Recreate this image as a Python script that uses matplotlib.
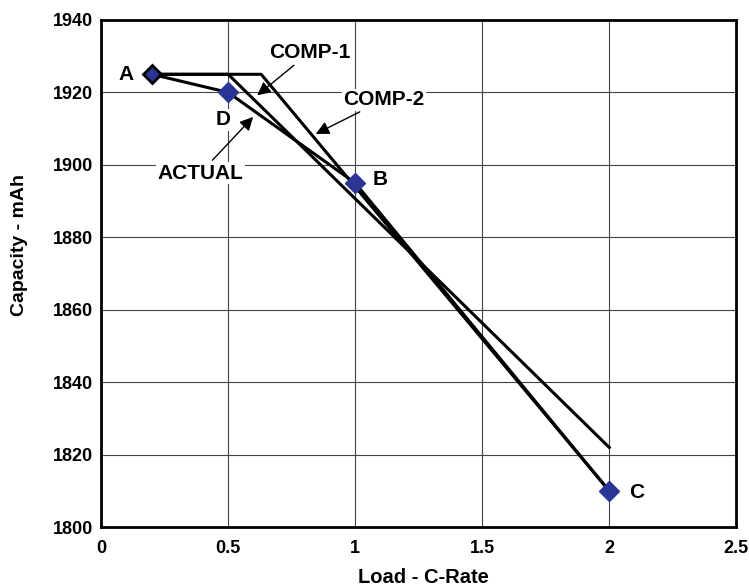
import matplotlib
matplotlib.use("Agg")
import matplotlib.pyplot as plt

plt.rcParams['font.family'] = ['Liberation Sans', 'DejaVu Sans']
plt.rcParams['font.weight'] = 'bold'

# measured points
pt_names = ['A', 'D', 'B', 'C']
pt_x = [0.2, 0.5, 1.0, 2.0]
pt_y = [1925, 1920, 1895, 1810]

# curves
actual_x = [0.2, 0.5, 1.0, 2.0]
actual_y = [1925, 1920, 1895, 1810]
comp1_x = [0.2, 0.5, 2.0]
comp1_y = [1925, 1925, 1822]
comp2_x = [0.2, 0.63, 2.0]
comp2_y = [1925, 1925, 1810]

fig = plt.figure(figsize=(7.49, 5.87), dpi=100)
ax = fig.add_axes([0.135, 0.102, 0.848, 0.864])

for xs, ys in [(comp1_x, comp1_y), (comp2_x, comp2_y), (actual_x, actual_y)]:
    ax.plot(xs, ys, color='black', lw=2.2, zorder=3)

ax.plot(pt_x[1:], pt_y[1:], 'D', color='#2b3595', ms=10, mec='#2b3595', zorder=4)
ax.plot(pt_x[:1], pt_y[:1], 'D', color='#2b3595', ms=9, mec='black', mew=2, zorder=4)

box = dict(facecolor='white', edgecolor='none', pad=1)
lbl_off = {'A': (-0.1, 0), 'D': (-0.02, -7.5), 'B': (0.1, 1), 'C': (0.11, -0.5)}
for n, x, y in zip(pt_names, pt_x, pt_y):
    dx, dy = lbl_off[n]
    ax.text(x + dx, y + dy, n, fontsize=15, fontweight='bold', ha='center', va='center',
            bbox=box, zorder=5)

arr = dict(arrowstyle='-|>', color='black', lw=1, mutation_scale=20)
ax.annotate('COMP-1', xy=(0.606, 1918.7), xytext=(0.82, 1931), fontsize=15,
            fontweight='bold', ha='center', va='center', arrowprops=arr, bbox=box, zorder=5)
ax.annotate('COMP-2', xy=(0.835, 1908.2), xytext=(1.114, 1918), fontsize=15,
            fontweight='bold', ha='center', va='center', arrowprops=arr, bbox=box, zorder=5)
ax.annotate('ACTUAL', xy=(0.606, 1913.8), xytext=(0.39, 1897.7), fontsize=15,
            fontweight='bold', ha='center', va='center', arrowprops=arr, bbox=box, zorder=5)

ax.set_xlim(0, 2.5)
ax.set_ylim(1800, 1940)
ax.set_xticks([0, 0.5, 1, 1.5, 2, 2.5])
ax.set_xticklabels(['0', '0.5', '1', '1.5', '2', '2.5'])
ax.set_yticks(range(1800, 1941, 20))
ax.grid(True, color='#444444', lw=0.8)
ax.set_axisbelow(True)
ax.tick_params(length=0, labelsize=13)
ax.tick_params(axis='x', pad=9)
ax.tick_params(axis='y', pad=6)
for lab in ax.get_xticklabels() + ax.get_yticklabels():
    lab.set_fontweight('bold')
for s in ax.spines.values():
    s.set_linewidth(2)

ax.set_xlabel('Load - C-Rate', fontsize=14.5, fontweight='bold', va='center')
ax.set_ylabel('Capacity - mAh', fontsize=14, fontweight='bold', va='center')
ax.xaxis.set_label_coords(0.507, -0.10)
ax.yaxis.set_label_coords(-0.128, 0.556)

fig.savefig('out.png', dpi=100)
